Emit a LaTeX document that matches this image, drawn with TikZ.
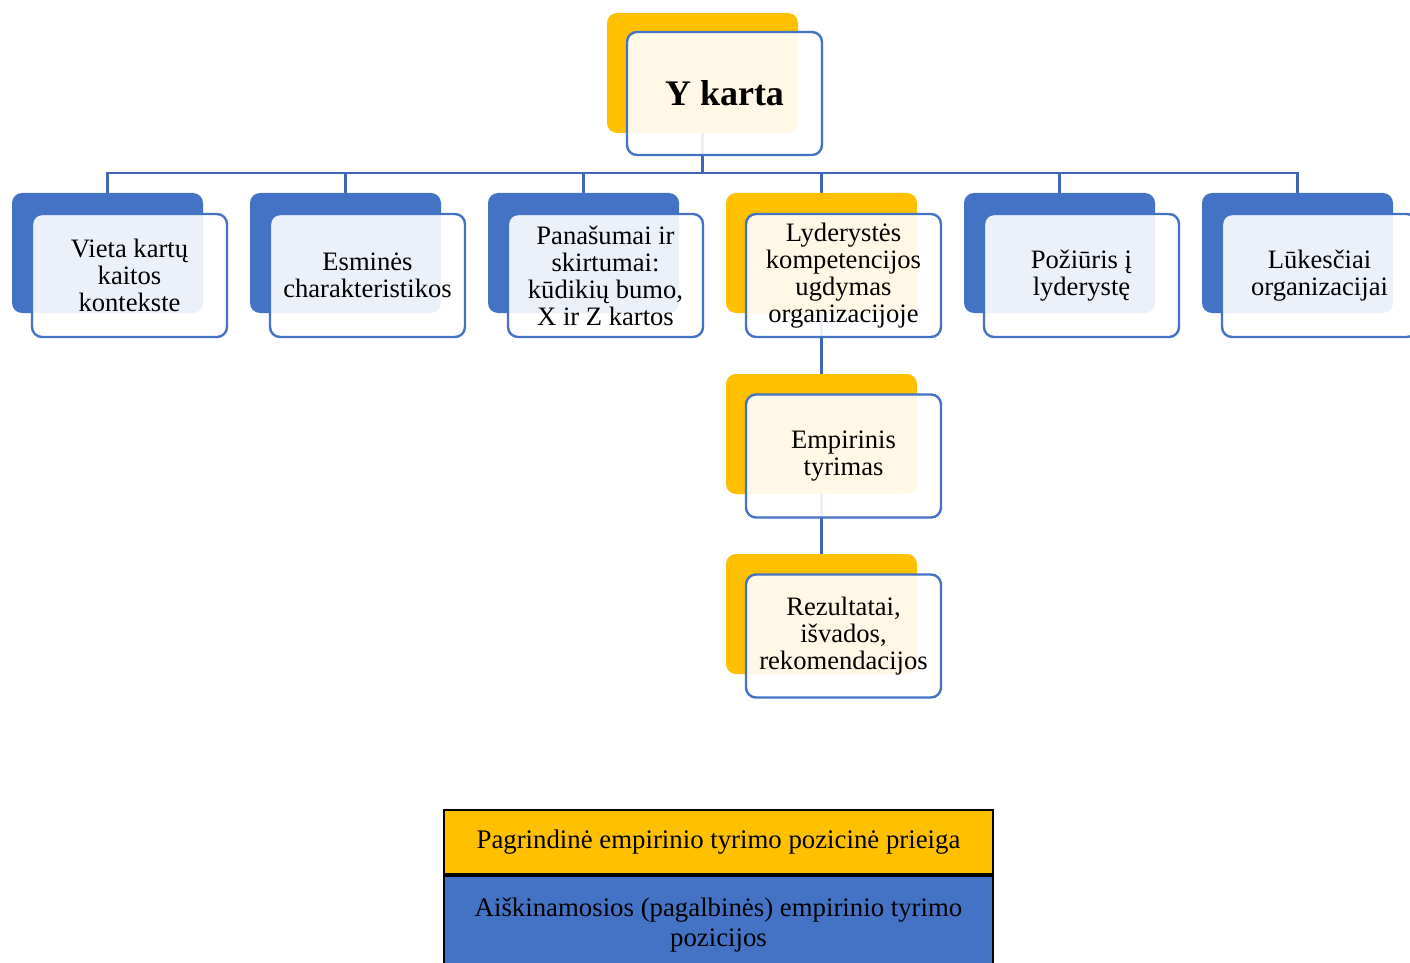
\documentclass[tikz,border=0pt]{standalone}
\usepackage{fontspec}
\setmainfont{Liberation Serif}
\pgfdeclarelayer{bg}
\pgfsetlayers{bg,main}
\definecolor{ygold}{HTML}{FFC000}
\definecolor{bblue}{HTML}{4472C4}
\definecolor{lineblue}{HTML}{3F67B5}
\tikzset{
  backbox/.style={rounded corners=5pt, minimum width=95.5pt, minimum height=60pt, inner sep=0pt},
  backY/.style={backbox, fill=ygold},
  backB/.style={backbox, fill=bblue},
  frontbox/.style={draw=bblue, line width=1.2pt, fill=white, fill opacity=0.9, text opacity=1,
    rounded corners=5pt, minimum width=97.5pt, minimum height=61.5pt, align=center,
    inner sep=0pt, font=\fontsize{13.3}{13.5}\selectfont},
  conn/.style={draw=lineblue, line width=1.4pt},
  legendbox/.style={draw=black, line width=1pt, minimum width=274.5pt, inner sep=0pt, align=center,
    font=\fontsize{13.4}{15}\selectfont}
}
\begin{document}
\begin{tikzpicture}[x=0.5pt,y=-0.5pt]
\clip (0,0) rectangle (1410,963);
% top node
\node[backY] (bY) at (702.5,73) {};
\node[frontbox, font=\fontsize{18}{20}\selectfont\bfseries] (fY) at (724.5,93.5) {Y karta};
% children
\node[backB] (b1) at (107.5,253) {};
\node[frontbox] (f1) at (129.5,275.5) {Vieta kartų\\kaitos\\kontekste};
\node[backB] (b2) at (345.5,253) {};
\node[frontbox] (f2) at (367.5,275.5) {Esminės\\charakteristikos};
\node[backB] (b3) at (583.5,253) {};
\node[frontbox] (f3) at (605.5,275.5) {Panašumai ir\\skirtumai:\\kūdikių bumo,\\X ir Z kartos};
\node[backY] (b4) at (821.5,253) {};
\node[frontbox] (f4) at (843.5,275.5) {Lyderystės\\kompetencijos\\ugdymas\\organizacijoje};
\node[backB] (b5) at (1059.5,253) {};
\node[frontbox] (f5) at (1081.5,275.5) {Požiūris į\\lyderystę};
\node[backB] (b6) at (1297.5,253) {};
\node[frontbox] (f6) at (1319.5,275.5) {Lūkesčiai\\organizacijai};
% chain
\node[backY] (b7) at (821.5,434) {};
\node[frontbox] (f7) at (843.5,456) {Empirinis\\tyrimas};
\node[backY] (b8) at (821.5,614) {};
\node[frontbox] (f8) at (843.5,636) {Rezultatai,\\išvados,\\rekomendacijos};
% connectors
\coordinate (bus) at (702.5,173);
\begin{pgfonlayer}{bg}
\draw[conn] (bY.south) -- (bus);
\foreach \k in {1,...,6}{\draw[conn] (bus) -| (b\k.north);}
\draw[conn] (b4.south) -- (b7.north);
\draw[conn] (b7.south) -- (b8.north);
\end{pgfonlayer}
% legend
\node[legendbox, fill=ygold, minimum height=32pt] (legY) at (718.5,842) {Pagrindinė empirinio tyrimo pozicinė prieiga};
\node[legendbox, fill=bblue, minimum height=49pt, anchor=north] (legB) at (legY.south) {Aiškinamosios (pagalbinės) empirinio tyrimo\\pozicijos};
\end{tikzpicture}
\end{document}
